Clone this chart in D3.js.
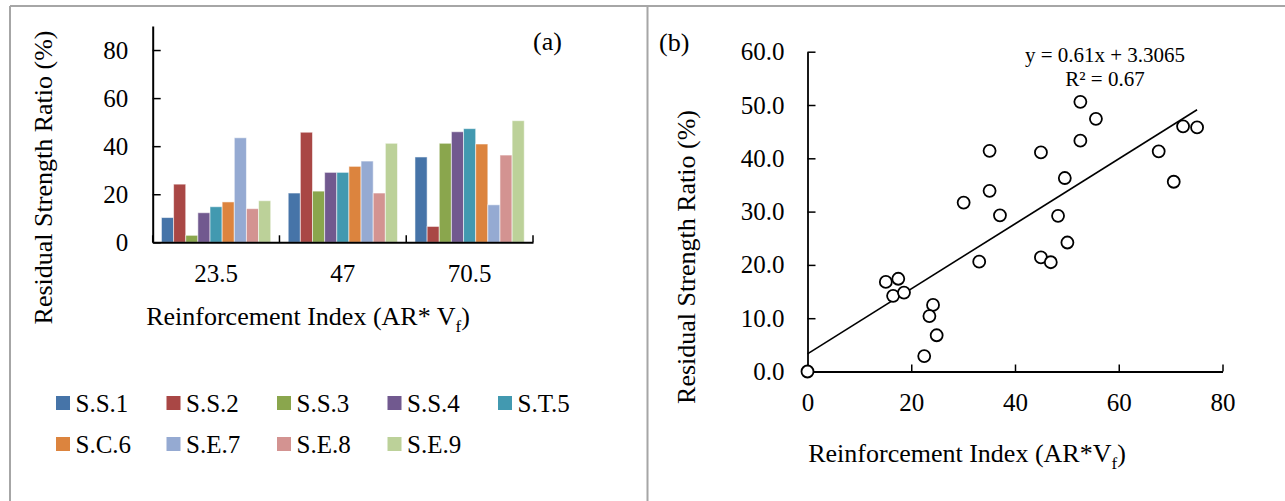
<!DOCTYPE html>
<html>
<head>
<meta charset="utf-8">
<script src="https://cdn.jsdelivr.net/npm/d3@7"></script>
<style>
  body { margin: 0; background: #fff; }
  svg { display: block; font-family: "Liberation Serif", "Times New Roman", serif; }
</style>
</head>
<body>
<svg id="chart"></svg>
<script>
// panel (a): residual strength ratio per mix, grouped by reinforcement index
const categories = ["23.5", "47", "70.5"];
const seriesNames = ["S.S.1", "S.S.2", "S.S.3", "S.S.4", "S.T.5", "S.C.6", "S.E.7", "S.E.8", "S.E.9"];
const seriesColors = ["#4674a8", "#a94745", "#8aa64d", "#71598f", "#4299b0", "#dc843e", "#95aad2", "#d39391", "#bcd199"];
const seriesValues = [
  [10.3, 20.5, 35.5],
  [24.2, 45.8, 6.6],
  [2.9, 21.3, 41.2],
  [12.3, 29.1, 46.0],
  [14.8, 29.1, 47.3],
  [16.8, 31.6, 40.9],
  [43.5, 33.8, 15.6],
  [14.0, 20.5, 36.3],
  [17.3, 41.2, 50.6]
];
const barTicks = [0, 20, 40, 60, 80];

// panel (b): scatter + linear trendline
const pointX = [0, 15.1, 17.5, 16.5, 18.6, 22.5, 24.2, 23.5, 24.9, 30.1, 33.1, 35.1, 35.1, 37.1,
  45.0, 45.0, 46.9, 48.3, 49.6, 50.1, 52.6, 52.6, 55.6, 67.7, 70.6, 72.4, 75.1];
const pointY = [0, 16.8, 17.4, 14.2, 14.8, 2.9, 12.5, 10.4, 6.8, 31.7, 20.6, 41.4, 33.9, 29.3,
  41.1, 21.4, 20.5, 29.2, 36.3, 24.2, 50.6, 43.3, 47.4, 41.3, 35.6, 46.0, 45.8];
const slope = 0.61;
const intercept = 3.3065;
const scatterXTicks = [0, 20, 40, 60, 80];
const scatterYTicks = [0, 10, 20, 30, 40, 50, 60];

const width = 1285, height = 501;
const svg = d3.select("#chart").attr("width", width).attr("height", height);

// frames
const frame = svg.append("g").attr("stroke", "#a6a6a6").attr("stroke-width", 2).attr("fill", "none");
frame.append("line").attr("x1", 10).attr("y1", 6).attr("x2", width).attr("y2", 6);
frame.append("line").attr("x1", 10).attr("y1", 6).attr("x2", 10).attr("y2", height);
frame.append("line").attr("x1", 647.5).attr("y1", 6).attr("x2", 647.5).attr("y2", height);

// drop the axis defaults so the serif font applies
const styleAxis = (ax, domainWidth) => {
  ax.attr("font-family", null).attr("font-size", null);
  ax.select(".domain").attr("stroke", "#000").attr("stroke-width", domainWidth);
  ax.selectAll(".tick line").attr("stroke", "#000").attr("stroke-width", 1.5);
  ax.selectAll("text").attr("font-size", 25).attr("fill", "#000");
};

// ---------- panel (a) ----------
const a = svg.append("g");
const x0 = d3.scaleBand().domain(categories).range([152.7, 533]).padding(0);
const x1 = d3.scaleBand().domain(seriesNames).range([0, x0.bandwidth()]).paddingInner(0).paddingOuter(0.72);
const yA = d3.scaleLinear().domain([0, 90]).range([242.3, 26]);

seriesNames.forEach((name, si) => {
  a.append("g")
    .selectAll("rect")
    .data(seriesValues[si])
    .join("rect")
    .attr("x", (d, ci) => x0(categories[ci]) + x1(name))
    .attr("y", d => yA(d))
    .attr("width", x1.bandwidth())
    .attr("height", d => yA(0) - yA(d))
    .attr("fill", seriesColors[si])
    .attr("stroke", "rgba(255,255,255,0.55)")
    .attr("stroke-width", 1);
});

const yAxisA = a.append("g")
  .attr("transform", `translate(${x0.range()[0]},0)`)
  .call(d3.axisLeft(yA).tickValues(barTicks).tickSizeInner(-8).tickSizeOuter(0).tickPadding(24.5));
styleAxis(yAxisA, 2);

const xAxisA = a.append("g")
  .attr("transform", `translate(0,${yA(0)})`)
  .call(d3.axisBottom(x0).tickSize(0).tickPadding(22));
styleAxis(xAxisA, 2);

// category boundary ticks, pointing up
const bounds = categories.map(c => x0(c)).concat([x0.range()[1]]);
a.append("g").selectAll("line").data(bounds).join("line")
  .attr("x1", d => d).attr("x2", d => d)
  .attr("y1", yA(0)).attr("y2", yA(0) - 7)
  .attr("stroke", "#000").attr("stroke-width", 1.5);

a.append("text")
  .attr("transform", "translate(52,177.5) rotate(-90)")
  .attr("text-anchor", "middle").attr("font-size", 26)
  .text("Residual Strength Ratio (%)");

const xtA = a.append("text")
  .attr("x", 308).attr("y", 325)
  .attr("text-anchor", "middle").attr("font-size", 26);
xtA.append("tspan").text("Reinforcement Index (AR* V");
xtA.append("tspan").attr("font-size", 17).attr("dy", 7).text("f");
xtA.append("tspan").attr("dy", -7).text(")");

a.append("text").attr("x", 533).attr("y", 50).attr("font-size", 26).text("(a)");

// legend
const legend = a.append("g").selectAll("g").data(seriesNames).join("g")
  .attr("transform", (d, i) => `translate(${56 + (i % 5) * 110.5},${403 + Math.floor(i / 5) * 41})`);
legend.append("rect")
  .attr("x", 0).attr("y", -7).attr("width", 14).attr("height", 14)
  .attr("fill", (d, i) => seriesColors[i]);
legend.append("text")
  .attr("x", 19.5).attr("dy", "0.35em").attr("font-size", 25)
  .text(d => d);

// ---------- panel (b) ----------
const b = svg.append("g");
const xB = d3.scaleLinear().domain([0, 80]).range([807.5, 1222.5]);
const yB = d3.scaleLinear().domain([0, 60]).range([371.5, 51.7]);

const xAxisB = b.append("g")
  .attr("transform", `translate(0,${yB(0)})`)
  .call(d3.axisBottom(xB).tickValues(scatterXTicks).tickFormat(d3.format("d"))
    .tickSizeInner(-7).tickSizeOuter(0).tickPadding(21.7));
const yAxisB = b.append("g")
  .attr("transform", `translate(${xB(0)},0)`)
  .call(d3.axisLeft(yB).tickValues(scatterYTicks).tickFormat(d3.format(".1f"))
    .tickSizeInner(-8).tickSizeOuter(0).tickPadding(23));
styleAxis(xAxisB, 1.8);
styleAxis(yAxisB, 1.8);

// trendline across the data range
const trendX = d3.extent(pointX);
b.append("line")
  .attr("x1", xB(trendX[0])).attr("y1", yB(slope * trendX[0] + intercept))
  .attr("x2", xB(trendX[1])).attr("y2", yB(slope * trendX[1] + intercept))
  .attr("stroke", "#000").attr("stroke-width", 1.6);

b.append("g").selectAll("circle")
  .data(pointX.map((d, i) => [d, pointY[i]]))
  .join("circle")
  .attr("cx", d => xB(d[0])).attr("cy", d => yB(d[1]))
  .attr("r", 6)
  .attr("fill", "#fff").attr("stroke", "#000").attr("stroke-width", 1.8);

b.append("text").attr("x", 1105).attr("y", 62).attr("text-anchor", "middle").attr("font-size", 21)
  .text("y = 0.61x + 3.3065");
b.append("text").attr("x", 1105).attr("y", 86).attr("text-anchor", "middle").attr("font-size", 21)
  .text("R² = 0.67");

b.append("text").attr("x", 659).attr("y", 51).attr("font-size", 26).text("(b)");

b.append("text")
  .attr("transform", "translate(695,257) rotate(-90)")
  .attr("text-anchor", "middle").attr("font-size", 26)
  .text("Residual Strength Ratio (%)");

const xtB = b.append("text")
  .attr("x", 967).attr("y", 462)
  .attr("text-anchor", "middle").attr("font-size", 26);
xtB.append("tspan").text("Reinforcement Index (AR*V");
xtB.append("tspan").attr("font-size", 17).attr("dy", 7).text("f");
xtB.append("tspan").attr("dy", -7).text(")");
</script>
</body>
</html>
